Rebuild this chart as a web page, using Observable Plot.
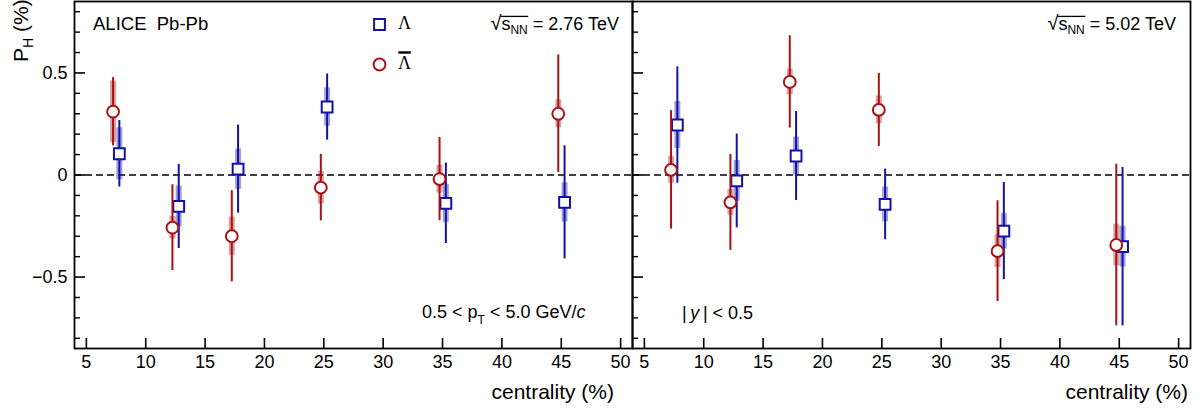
<!DOCTYPE html>
<html>
<head>
<meta charset="utf-8">
<script src="https://cdn.jsdelivr.net/npm/d3@7"></script>
<script src="https://cdn.jsdelivr.net/npm/@observablehq/plot@0.6"></script>
<style>
  html, body { margin: 0; padding: 0; background: #fff; }
  #chart { display: flex; width: 1202px; height: 411px; overflow: hidden; }
  #chart svg { flex: none; overflow: visible; }
</style>
</head>
<body>
<div id="chart"></div>
<script>
// ---------- data ----------
const centrality = [7.5, 12.5, 17.5, 25, 35, 45];
const xTicks = [5, 10, 15, 20, 25, 30, 35, 40, 45, 50];
const yMajorTicks = [-0.5, 0, 0.5];
const yMinorTicks = [-0.8, -0.7, -0.6, -0.4, -0.3, -0.2, -0.1, 0.1, 0.2, 0.3, 0.4, 0.6, 0.7, 0.8];

// sqrt(sNN) = 2.76 TeV
const lambda276      = [0.104, -0.154, 0.029, 0.333, -0.139, -0.134];
const lambda276Stat  = [0.163, 0.206, 0.216, 0.162, 0.197, 0.277];
const lambda276Sys   = [0.128, 0.100, 0.099, 0.094, 0.093, 0.096];
const antiLambda276     = [0.310, -0.258, -0.300, -0.062, -0.020, 0.300];
const antiLambda276Stat = [0.167, 0.210, 0.223, 0.163, 0.204, 0.288];
const antiLambda276Sys  = [0.150, 0.055, 0.094, 0.080, 0.068, 0.068];

// sqrt(sNN) = 5.02 TeV
const lambda502      = [0.245, -0.029, 0.093, -0.144, -0.275, -0.351];
const lambda502Stat  = [0.285, 0.230, 0.218, 0.173, 0.238, 0.388];
const lambda502Sys   = [0.115, 0.100, 0.093, 0.085, 0.087, 0.100];
const antiLambda502     = [0.025, -0.134, 0.456, 0.319, -0.373, -0.343];
const antiLambda502Stat = [0.290, 0.235, 0.226, 0.179, 0.247, 0.396];
const antiLambda502Sys  = [0.065, 0.063, 0.063, 0.068, 0.080, 0.102];

// ---------- style ----------
const BLUE = "#1212a8";
const RED = "#a81212";
const FONT = "'Liberation Sans', Arial, Helvetica, sans-serif";
const SERIF = "'Liberation Serif', 'Times New Roman', serif";
const yFormat = d => d === 0 ? "0" : d.toFixed(1).replace("-", "\u2212");

function rows(vals, stat, sys) {
  return centrality.map((c, i) => ({c, v: vals[i], stat: stat[i], sys: sys[i]}));
}

function sysMarks(data, color, dx) {
  return Plot.ruleX(data, {x: "c", y1: d => d.v - d.sys, y2: d => d.v + d.sys,
    stroke: color, strokeOpacity: 0.4, strokeWidth: 6, dx});
}
function statMarks(data, color, dx, symbol, r) {
  return [
    Plot.ruleX(data, {x: "c", y1: d => d.v - d.stat, y2: d => d.v + d.stat,
      stroke: color, strokeWidth: 2, dx}),
    Plot.dot(data, {x: "c", y: "v", symbol, r, fill: "white", stroke: color, strokeWidth: 2, dx})
  ];
}

function panel({lambda, antiLambda, width, marginLeft, marginRight, yLabels, legend}) {
  const dxL = 3.3, dxA = -3;
  const rSq = 6.1, rCi = 5.9;
  return Plot.plot({
    width, height: 411,
    marginLeft, marginRight, marginTop: 1, marginBottom: 63,
    style: {fontFamily: FONT, fontSize: "18px", color: "black", background: "transparent", overflow: "visible"},
    x: {domain: [4, 51], label: null},
    y: {domain: [-0.85, 0.85], label: null},
    marks: [
      Plot.ruleY([0], {stroke: "black", strokeWidth: 1.4, strokeDasharray: "7,4"}),
      sysMarks(lambda, BLUE, dxL),
      sysMarks(antiLambda, RED, dxA),
      ...statMarks(lambda, BLUE, dxL, "square", rSq),
      ...statMarks(antiLambda, RED, dxA, "circle", rCi),
      legend ? Plot.dot([{}], {frameAnchor: "top-left", dx: 305, dy: 23, symbol: "square", r: rSq,
        fill: "white", stroke: BLUE, strokeWidth: 2}) : null,
      legend ? Plot.dot([{}], {frameAnchor: "top-left", dx: 305, dy: 63, symbol: "circle", r: rCi,
        fill: "white", stroke: RED, strokeWidth: 2}) : null,
      Plot.axisX({ticks: xTicks, tickSize: -10, tickFormat: () => "", label: null, strokeWidth: 1.6}),
      Plot.axisX({ticks: xTicks, tickSize: 0, tickPadding: 7, label: null}),
      Plot.axisY({ticks: yMajorTicks, tickSize: -11, tickFormat: () => "", label: null, strokeWidth: 1.6}),
      Plot.axisY({ticks: yMinorTicks, tickSize: -6, tickFormat: () => "", label: null, strokeWidth: 1.4}),
      yLabels ? Plot.axisY({ticks: yMajorTicks, tickSize: 0, tickPadding: 7, tickFormat: yFormat, label: null}) : null,
      Plot.frame({stroke: "black", strokeWidth: 1.8})
    ]
  });
}

const left = panel({
  lambda: rows(lambda276, lambda276Stat, lambda276Sys),
  antiLambda: rows(antiLambda276, antiLambda276Stat, antiLambda276Sys),
  width: 632, marginLeft: 74, marginRight: 0, yLabels: true, legend: true
});
const right = panel({
  lambda: rows(lambda502, lambda502Stat, lambda502Sys),
  antiLambda: rows(antiLambda502, antiLambda502Stat, antiLambda502Sys),
  width: 570, marginLeft: 0, marginRight: 12, yLabels: false, legend: false
});
const chart = document.getElementById("chart");
chart.appendChild(left);
chart.appendChild(right);

// ---------- annotations ----------
function addText(svg, {x, y, anchor = "start", size = 18, rotate = null, family = FONT, parts}) {
  const t = d3.select(svg).append("text")
    .attr("x", x).attr("y", y)
    .attr("text-anchor", anchor)
    .attr("font-family", family)
    .attr("font-size", size)
    .attr("fill", "black")
    .style("white-space", "pre");
  if (rotate != null) t.attr("transform", `rotate(${rotate} ${x} ${y})`);
  let shift = 0;
  for (const p of parts) {
    const s = t.append("tspan").text(p.text);
    const want = p.sub || 0;
    if (want !== shift) { s.attr("dy", want - shift); shift = want; }
    if (p.size) s.attr("font-size", p.size);
    if (p.italic) s.attr("font-style", "italic");
    if (p.family) s.attr("font-family", p.family);
  }
  return t.node();
}

function sqrtLabel(svg, xEnd, y, energy) {
  const t = addText(svg, {x: xEnd, y, anchor: "end", parts: [
    {text: "\u221A", size: 20}, {text: "s"}, {text: "NN", sub: 4, size: 12}, {text: ` = ${energy} TeV`}
  ]});
  const x0 = t.getStartPositionOfChar(1).x - 0.8;
  const x1 = t.getEndPositionOfChar(3).x + 0.5;
  d3.select(svg).append("line").attr("x1", x0).attr("x2", x1)
    .attr("y1", y - 13.6).attr("y2", y - 13.6).attr("stroke", "black").attr("stroke-width", 1.3);
}

// left panel texts
addText(left, {x: 93, y: 30, size: 18.5, parts: [{text: "ALICE  Pb-Pb"}]});
sqrtLabel(left, 619, 30, "2.76");
addText(left, {x: 398, y: 29, family: SERIF, size: 18, parts: [{text: "\u039B"}]});
const aL = addText(left, {x: 398, y: 69, family: SERIF, size: 18, parts: [{text: "\u039B"}]});
{
  const a = aL.getStartPositionOfChar(0).x, b = aL.getEndPositionOfChar(0).x;
  d3.select(left).append("line").attr("x1", a + 0.3).attr("x2", b - 0.3)
    .attr("y1", 52.5).attr("y2", 52.5).attr("stroke", "black").attr("stroke-width", 2.4);
}
addText(left, {x: 422, y: 318, parts: [
  {text: "0.5 < p"}, {text: "T", sub: 6, size: 12}, {text: " < 5.0 GeV/"}, {text: "c", italic: true}
]});
addText(left, {x: 614, y: 399, anchor: "end", size: 21, parts: [{text: "centrality (%)"}]});
addText(left, {x: 28, y: 62, rotate: -90, size: 21, parts: [
  {text: "P"}, {text: "H", sub: 5, size: 14}, {text: " (%)"}
]});

// right panel texts
sqrtLabel(right, 544, 30, "5.02");
addText(right, {x: 50, y: 319, parts: [{text: "|\u2009"}, {text: "y", italic: true}, {text: "\u2009| < 0.5"}]});
addText(right, {x: 556, y: 399, anchor: "end", size: 21, parts: [{text: "centrality (%)"}]});
</script>
</body>
</html>
